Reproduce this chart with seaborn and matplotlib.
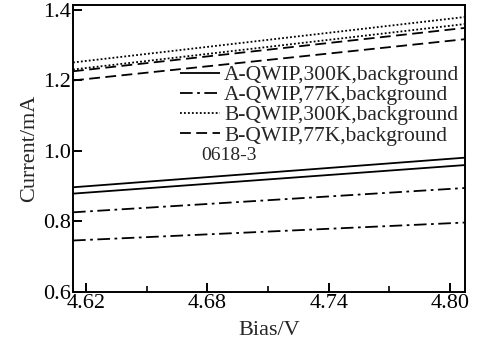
import matplotlib
matplotlib.use("Agg")
import matplotlib.pyplot as plt
import seaborn as sns
import pandas as pd
from matplotlib.ticker import MultipleLocator

sns.set_theme(style="ticks")
plt.rcParams['font.family'] = ['Liberation Serif', 'DejaVu Serif']
plt.rcParams['mathtext.fontset'] = 'stix'

# Data (endpoints of the straight I-V lines)
bias = [4.6136, 4.8074]
a300_1 = [0.897, 0.981]
a300_2 = [0.879, 0.960]
a77_1 = [0.826, 0.895]
a77_2 = [0.746, 0.797]
b300_1 = [1.251, 1.380]
b300_2 = [1.231, 1.360]
b77_1 = [1.226, 1.349]
b77_2 = [1.200, 1.317]

labels = ["A-QWIP,300K,background", "A-QWIP,77K,background",
          "B-QWIP,300K,background", "B-QWIP,77K,background"]
series = [(labels[0], [a300_1, a300_2]), (labels[1], [a77_1, a77_2]),
          (labels[2], [b300_1, b300_2]), (labels[3], [b77_1, b77_2])]

styles = {labels[0]: (0, ()),
          labels[1]: (0, (7, 2.5, 1.5, 2.5)),
          labels[2]: (0, (1, 1.2)),
          labels[3]: (0, (6, 3))}

fig = plt.figure(figsize=(4.82, 3.42), dpi=100)
ax = fig.add_axes([0.1515, 0.1462, 0.8132, 0.8392])

for name, lines in series:
    for i, vals in enumerate(lines):
        df = pd.DataFrame({"Bias": bias, "Current": vals})
        sns.lineplot(data=df, x="Bias", y="Current", ax=ax, color="black",
                     linewidth=1.3, linestyle=styles[name],
                     label=name if i == 0 else None, legend=False)

ax.set_xlim(4.6136, 4.8074)
ax.set_ylim(0.6, 1.414)
ax.set_xticks([4.62, 4.68, 4.74, 4.80])
ax.set_xticklabels(["4.62", "4.68", "4.74", "4.80"])
ax.xaxis.set_minor_locator(MultipleLocator(0.03))
ax.set_yticks([0.6, 0.8, 1.0, 1.2, 1.4])
ax.set_yticklabels(["0.6", "0.8", "1.0", "1.2", "1.4"])

ax.tick_params(axis="both", which="major", direction="in", length=6.5, width=1.4,
               labelsize=16, pad=1.5, colors="black")
ax.tick_params(axis="x", which="minor", direction="in", length=4, width=1.4)
for s in ax.spines.values():
    s.set_linewidth(1.4)
    s.set_color("black")

ax.set_xlabel("Bias/V", fontsize=16, labelpad=6)
ax.set_ylabel("Current/mA", fontsize=16, labelpad=3)

handles, labs = ax.get_legend_handles_labels()
leg = ax.legend(handles, labs, loc="upper left", bbox_to_anchor=(0.273, 0.79),
                frameon=False, fontsize=15.5, handlelength=1.85, handletextpad=0.2,
                labelspacing=0.0, borderpad=0.0, borderaxespad=0.0)
ax.text(0.399, 0.475, "0618-3", transform=ax.transAxes, fontsize=14,
        ha="center", va="center")

fig.savefig("out.png", dpi=100)
